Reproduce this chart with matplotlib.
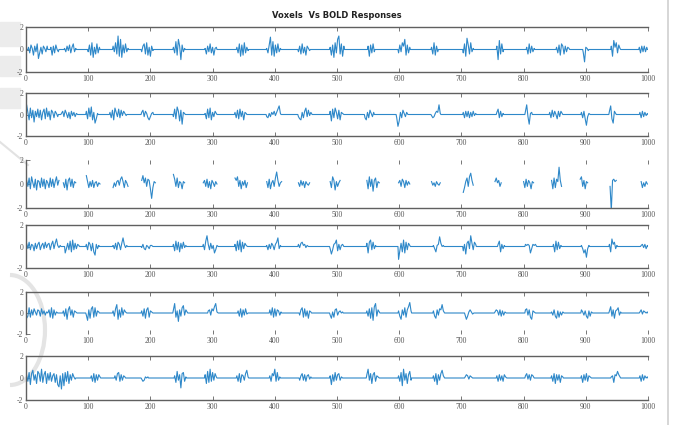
import numpy as np
import matplotlib
matplotlib.use("Agg")
import matplotlib.pyplot as plt
from matplotlib.lines import Line2D
from matplotlib.patches import Rectangle, Arc

title = "Voxels  Vs BOLD Responses"
x_ticks = [0, 100, 200, 300, 400, 500, 600, 700, 800, 900, 1000]
y_ticks = [-2, 0, 2]
y_labels = ["-2", "0", "2"]
step = 2

p1_starts = [4, 40, 62, 100, 140, 186, 237, 288, 339, 387, 438, 489, 550, 599, 652, 703, 757, 805, 853, 896, 941, 986]
p1_bursts = [
    [0.2, -0.3, 0.4, 0.1, -0.5, 0.3, -0.2, 0.5, -0.8, -0.3, 0.2, -0.4, 0.3, 0.1, -0.2, 0.3],
    [0.2, -0.5, 0.3, -0.3, 0.4, 0.0, -0.2],
    [0.1, -0.2, 0.3, -0.1, 0.4, -0.3, 0.2, 0.5, -0.2, 0.1],
    [-0.2, 0.4, -0.5, 0.6, -0.7, 0.2, -0.4, 0.5, -0.3, 0.2],
    [0.3, -0.2, 0.6, -0.4, 1.2, -0.6, 0.9, -0.7, 0.4, -0.3, 0.5, -0.2, 0.1],
    [-0.2, 0.3, 0.5, -0.4, 0.6, -0.5, 0.2, -0.6, 0.3, -0.1],
    [0.2, -0.3, 0.7, -0.5, 0.9, 0.3, -0.9, 0.4, -0.2, 0.1],
    [0.1, -0.4, 0.3, -0.2, 0.5, -0.3, 0.2, -0.5, 0.1, 0.2],
    [0.2, -0.3, 0.5, -0.6, 0.4, -0.5, 0.6, -0.3, 0.2, -0.1],
    [0.1, -0.3, 0.4, 1.1, -0.5, 0.7, -0.6, 0.4, -0.3, 0.5, -0.2, 0.1],
    [-0.2, 0.3, -0.4, 0.5, -0.3, 0.2, -0.5, 0.3, 0.1, -0.1],
    [0.2, -0.5, 0.4, -0.7, 0.6, -0.3, 0.9, 1.2, -0.4, 0.5, -0.6, 0.3],
    [0.3, -0.6, 0.4, -0.3, 0.5, -0.2],
    [-0.3, 0.4, -0.2, 0.6, 0.3, 0.9, -0.5, 0.4, -0.3, 0.2],
    [0.2, -0.4, 0.6, -0.5, 0.3, -0.2],
    [-0.3, 0.5, -0.6, 1.0, 0.4, -0.4, 0.6, -0.2, 0.1],
    [0.3, -0.9, 0.8, -0.4, 0.5, -0.2],
    [0.2, -0.4, 0.5, -0.3, 0.3, -0.2, 0.1],
    [0.2, -0.3, 0.4, -0.5, 0.5, 0.3, -0.4, 0.3, -0.2, 0.2, 0.1],
    [-0.3, -1.1, 0.2, 0.1, -0.1],
    [0.3, -0.6, 0.8, 0.2, 0.6, -0.3, 0.4, 0.1],
    [0.2, -0.3, 0.3, -0.2, 0.3, -0.2, 0.2],
]

p2_starts = [1, 21, 57, 97, 135, 186, 237, 288, 336, 387, 438, 489, 545, 596, 652, 703, 757, 803, 842, 893, 938, 987]
p2_bursts = [
    [0.9, 0.2, -0.5, 0.6, -0.3, 0.4, -0.7, 0.3, -0.2, 0.5],
    [-0.3, 0.4, -0.5, 0.2, 0.5, -0.4, 0.6, -0.2, 0.3, -0.5, 0.4, 0.2, -0.3, 0.3, 0.1, -0.2],
    [0.1, 0.3, -0.2, 0.4, 0.1, -0.3, 0.2, -0.4, 0.3, -0.1, 0.2, -0.2, 0.1, 0.0],
    [0.3, -0.4, 0.6, -0.2, 0.7, -0.5, 0.2, -0.8, -0.4, 0.1],
    [0.2, -0.3, 0.4, -0.5, 0.6, 0.2, -0.2, 0.5, -0.3, 0.4, -0.1, 0.3, 0.1, -0.1],
    [0.2, 0.4, -0.2, 0.3, 0.1, -0.3, -0.5, -0.2, 0.1, 0.2],
    [-0.2, 0.5, -0.4, 0.7, 0.3, -0.6, 0.4, -0.9, 0.2, 0.1],
    [0.1, -0.4, 0.5, -0.3, 0.6, -0.5, 0.2, -0.2, 0.3, 0.1],
    [0.2, -0.3, 0.4, -0.4, 0.5, -0.2, 0.3, -0.5, 0.2, 0.1],
    [-0.2, -0.3, 0.1, -0.2, 0.2, 0.0, 0.3, -0.1, 0.2, 0.5, 0.8, 0.1],
    [-0.2, -0.4, -0.5, 0.2, -0.3, 0.3, 0.6, -0.2, 0.4, -0.1, 0.2, 0.0],
    [0.3, -0.6, 0.5, -0.3, 0.6, 0.2, -0.4, 0.4, -0.5, 0.2, 0.1, 0.0],
    [-0.3, -0.5, 0.2, -0.3, 0.4, 0.1, -0.2, 0.2],
    [-0.3, -1.1, -0.6, 0.2, -0.3, 0.4, 0.1, -0.2, 0.2, 0.0],
    [-0.1, -0.3, -0.2, 0.1, 0.3, 0.2, 0.9, 0.1],
    [0.2, -0.3, 0.3, -0.2, 0.3, -0.3, 0.2, -0.2, 0.3, -0.1, 0.1],
    [0.2, 0.5, -0.3, 0.3, -0.2, 0.1],
    [0.3, 0.9, -0.2, -0.9, 0.1, 0.2],
    [0.2, -0.3, 0.4, -0.2, 0.3, 0.0, -0.4, 0.3, -0.2, 0.3, 0.1],
    [0.2, -0.3, 0.3, -0.4, -1.0, -0.2, 0.1, 0.0],
    [0.3, 0.8, -0.4, -0.8, 0.3, 0.1],
    [0.2, -0.3, 0.3, -0.2, 0.2, -0.1, 0.1],
]

p3_starts = [1, 60, 97, 140, 186, 237, 285, 336, 387, 438, 489, 548, 599, 652, 703, 754, 800, 845, 891, 939, 989]
p3_bursts = [
    [0.3, -0.2, 0.5, -0.4, 0.6, 0.1, -0.3, 0.4, -0.5, 0.3, 0.2, -0.3, 0.5, -0.2, 0.4, -0.4, 0.3, 0.1, -0.3, 0.5, -0.2, 0.4, -0.3, 0.2, 0.6, -0.1, 0.3],
    [0.1, -0.3, 0.4, -0.5, 0.3, 0.5, -0.2, 0.4, -0.3, 0.2, 0.1],
    [0.7, 0.2, -0.3, 0.2, -0.2, 0.3, -0.3, 0.1, 0.2, -0.2, 0.1, 0.0],
    [-0.3, 0.1, -0.2, 0.2, 0.3, -0.1, 0.4, 0.6, 0.2, -0.3, 0.3, 0.1, -0.2],
    [0.3, 0.7, 0.1, 0.5, -0.2, 0.4, 0.3, -0.4, -1.2, -0.3, 0.2, 0.1],
    [0.8, 0.4, -0.2, 0.5, -0.3, 0.2, 0.1, -0.4, 0.2, 0.1],
    [0.1, 0.3, -0.2, 0.4, -0.3, 0.2, -0.4, 0.3, 0.1, -0.2, 0.2, 0.0],
    [0.5, 0.3, 0.6, -0.2, 0.3, -0.4, 0.2, -0.1, 0.3, -0.3, 0.1],
    [0.2, -0.3, 0.4, -0.4, 0.1, 0.3, -0.2, 0.5, 1.0, 0.3, -0.2, 0.1, 0.2],
    [0.1, -0.2, 0.3, -0.1, 0.2, -0.3, 0.2, 0.0, -0.1, 0.1],
    [0.2, -0.3, 0.6, 0.3, -0.5, 0.2, -0.2, 0.1, 0.3],
    [0.3, -0.4, 0.6, -0.2, 0.4, -0.6, 0.3, 0.5, -0.3, 0.2, 0.1],
    [0.1, 0.3, -0.2, 0.4, 0.2, -0.3, 0.3, -0.1, 0.2, 0.0],
    [0.2, -0.1, 0.1, -0.2, 0.2, 0.0, -0.1, 0.1],
    [-0.7, -0.3, 0.2, 0.5, -0.2, 0.6, 0.9, 0.3, -0.1],
    [0.2, 0.5, 0.1, 0.3, -0.2, 0.1],
    [0.2, -0.3, 0.4, -0.2, 0.3, 0.1, -0.4, 0.2, 0.1],
    [0.3, -0.4, 0.5, -0.3, 0.4, 0.2, 1.4, 0.3, -0.2],
    [0.4, 0.6, -0.2, 0.3, -0.4, 0.2, 0.1],
    [-0.2, -2.2, 0.3, 0.4, 0.2, 0.3],
    [0.2, -0.3, 0.1, -0.2, 0.2, 0.0],
]

p4_starts = [1, 63, 97, 140, 186, 237, 285, 336, 387, 438, 489, 548, 599, 655, 703, 759, 803, 848, 893, 938, 989]
p4_bursts = [
    [0.3, -0.2, 0.4, -0.3, 0.2, 0.1, -0.4, 0.3, -0.2, 0.2, 0.4, -0.3, 0.1, 0.3, -0.2, 0.4, -0.1, 0.2, 0.3, -0.3, 0.2, 0.5, -0.2, 0.3, 0.7, 0.1, -0.1, 0.1],
    [-0.6, -0.2, 0.3, -0.3, 0.5, -0.5, 0.6, -0.3, 0.3, -0.2, 0.2, 0.1],
    [0.2, -0.3, 0.4, 0.2, -0.4, 0.3, -0.5, -0.8, 0.2, -0.2, 0.1],
    [0.1, -0.2, 0.3, -0.3, 0.4, 0.2, -0.3, 0.3, 0.8, 0.2, -0.1, 0.1],
    [-0.1, 0.2, -0.2, -0.3, 0.1, 0.0, -0.2, 0.1, 0.1, 0.0],
    [0.2, -0.4, 0.5, -0.3, 0.4, -0.5, 0.3, -0.2, 0.4, -0.1, 0.1],
    [0.2, -0.3, 0.5, 1.0, 0.2, -0.3, 0.3, -0.2, 0.1, -0.6, -0.3, 0.1, 0.0],
    [0.2, -0.4, 0.5, -0.3, 0.6, -0.5, 0.4, -0.2, 0.3, 0.1, 0.0],
    [0.1, -0.3, 0.2, -0.2, 0.3, 0.1, -0.3, 0.2, 0.4, 0.8, -0.2, 0.1],
    [0.2, -0.1, 0.3, 0.4, 0.1, 0.2, -0.1, 0.1, 0.0, 0.0],
    [-0.2, -0.7, -0.3, 0.2, 0.3, 0.6, -0.4, 0.2, -0.3, 0.1, 0.2, 0.0],
    [0.3, -0.6, 0.4, 0.6, -0.3, 0.4, -0.2, 0.1],
    [-1.2, -0.4, 0.3, -0.5, 0.6, -0.6, 0.4, -0.3, 0.3, 0.1],
    [0.1, -0.2, -0.5, 0.1, 0.2, 0.9, 0.3, 0.0, 0.1],
    [-0.4, 0.2, -0.7, 0.3, 0.5, -0.2, 1.0, 0.3, -0.3, 0.4, 0.2],
    [0.2, 0.5, -0.5, 0.2, -0.2, 0.1],
    [0.2, 0.1, 0.2, 0.1, -0.6, -0.2, 0.2, 0.1, 0.2, 0.0],
    [0.2, -0.5, 0.5, -0.3, 0.4, -0.2, 0.1],
    [0.1, -0.2, -0.6, -0.3, -1.0, -0.2, 0.1],
    [0.2, -0.5, 0.7, 0.2, 0.4, -0.2, 0.1],
    [0.1, 0.2, -0.1, 0.2, -0.2, 0.1],
]

p5_starts = [1, 60, 97, 140, 186, 237, 293, 341, 392, 440, 489, 548, 599, 655, 706, 754, 803, 845, 893, 938, 987]
p5_bursts = [
    [-0.5, -0.3, 0.5, -0.4, 0.3, -0.2, 0.4, 0.1, -0.2, 0.3, 0.2, -0.3, 0.4, -0.1, 0.2, -0.2, 0.1, 0.0, 0.3, -0.4, 0.5, -0.5, 0.3, -0.2, 0.1, 0.0],
    [0.2, -0.3, 0.4, -0.6, 0.3, 0.6, -0.2, 0.3, -0.4, 0.2, 0.1, 0.0],
    [-0.2, -0.7, 0.3, -0.5, 0.4, 0.6, -0.4, 0.5, -0.3, 0.2, 0.1],
    [0.2, -0.3, 0.4, 0.8, -0.6, 0.3, -0.4, 0.5, -0.2, 0.3, 0.1, 0.0],
    [0.2, -0.3, 0.4, -0.5, 0.3, 0.5, -0.4, 0.2, 0.1, 0.0],
    [0.3, 0.9, -0.4, 0.2, -0.8, 0.3, -0.3, 0.5, 0.7, -0.2, 0.3, 0.1],
    [0.2, 0.3, -0.2, 0.4, 0.2, 0.6, 0.9, 0.1, 0.0],
    [0.2, -0.3, 0.4, -0.4, 0.3, -0.2, 0.4, -0.1, 0.0],
    [0.3, -0.2, 0.5, -0.4, 0.4, -0.3, 0.3, 0.2, -0.2, 0.1],
    [-0.2, 0.3, 0.5, -0.4, 0.4, -0.3, 0.2, -0.5, 0.2, 0.1],
    [-0.2, -0.5, 0.1, -0.4, 0.3, 0.4, -0.2, 0.1, 0.2, 0.0, 0.1],
    [0.2, -0.3, 0.4, -0.5, 0.5, -0.7, 0.6, 0.9, -0.3, 0.3, 0.1],
    [0.2, -0.3, -0.6, 0.3, -0.2, 0.5, -0.4, 0.3, 0.6, 1.0, 0.2],
    [0.2, -0.3, -0.5, 0.3, -0.2, 0.4, 0.3, 0.8, 0.2, 0.0],
    [-0.2, -0.6, -0.3, 0.1, 0.3, 0.1, -0.1, 0.0],
    [0.1, 0.3, 0.2, -0.2, 0.3, -0.3, 0.2, -0.2, 0.1, 0.0],
    [0.3, 0.4, -0.2, 0.3, -0.4, -0.6, 0.2, 0.1, 0.0],
    [0.1, -0.2, 0.3, -0.3, -0.5, 0.2, -0.4, 0.1, -0.2, 0.1, 0.0],
    [0.3, 0.1, -0.2, 0.2, -0.3, -0.5, 0.2, -0.3, 0.1, 0.0],
    [0.2, 0.6, -0.3, 0.3, -0.5, 0.2, 0.3, 0.5, -0.2, 0.1],
    [0.1, 0.3, -0.1, 0.2, 0.1, 0.0, 0.1],
]

p6_starts = [1, 105, 143, 186, 239, 288, 339, 392, 440, 489, 548, 599, 655, 706, 757, 803, 845, 893, 941, 987]
p6_bursts = [
    [0.2, -0.3, 0.5, -0.6, 0.4, 0.7, -0.2, 0.3, -0.5, 0.6, 0.4, -0.3, 0.8, -0.4, 0.3, 0.6, -0.5, 0.4, -0.2, 0.5, -0.3, 0.2, 0.4, -0.4, 0.3, -0.6, -0.8, 0.2, -1.0, 0.4, -0.7, 0.5, -0.3, 0.6, -0.5, 0.3, -0.2, 0.4, 0.1, -0.1],
    [0.2, -0.3, 0.4, -0.4, 0.3, -0.2, 0.3, 0.1],
    [0.2, -0.2, 0.4, 0.5, -0.3, 0.3, -0.2, 0.2, 0.1],
    [-0.1, -0.3, -0.2, 0.1, 0.0, 0.1],
    [0.2, -0.4, 0.6, -0.2, 0.3, -0.9, 0.4, 0.5, -0.3, 0.1],
    [0.3, -0.5, 0.6, -0.4, 0.8, -0.3, 0.5, -0.2, 0.4, 0.1],
    [0.2, -0.3, 0.4, -0.4, 0.3, 0.2, -0.2, 0.4, 0.7, 0.1],
    [0.2, -0.3, 0.4, 0.2, 0.8, -0.3, 0.5, -0.2, 0.1],
    [-0.2, 0.2, 0.4, -0.2, 0.3, -0.3, 0.2, 0.3, -0.1, 0.1],
    [0.2, -0.6, 0.3, -0.3, 0.5, -0.2, 0.3, 0.4, -0.2, 0.1, 0.0],
    [0.3, 0.8, -0.2, 0.4, -0.5, 0.3, 0.5, -0.3, 0.2, 0.1, 0.0],
    [0.2, -0.3, 0.5, -0.7, 0.8, -0.2, 0.4, -0.5, 0.3, 0.6, -0.2],
    [0.2, -0.3, 0.4, -0.6, 0.3, -0.2, 0.4, 0.7, 0.2, 0.0],
    [0.1, 0.3, 0.2, -0.1, 0.2, 0.1, 0.0],
    [0.2, -0.3, 0.3, -0.2, 0.2, -0.3, 0.3, 0.1, 0.0],
    [0.2, 0.4, -0.1, 0.3, -0.2, 0.3, 0.2, 0.0],
    [0.2, -0.3, 0.4, -0.5, 0.3, -0.2, 0.3, -0.4, 0.2, 0.1],
    [0.2, -0.4, 0.3, -0.2, 0.4, -0.3, 0.2, 0.1, 0.0],
    [0.1, 0.2, -0.4, 0.3, 0.2, 0.6, 0.3, 0.1],
    [0.2, -0.3, 0.3, -0.2, 0.2, 0.0, 0.1],
]


def build(starts, bursts, gaps=False):
    xs, ys = [], []
    if not gaps:
        xs.append(0); ys.append(0.0)
    for s, b in zip(starts, bursts):
        bx = [s + step * i for i in range(len(b))]
        if gaps:
            xs += bx + [bx[-1]]
            ys += list(b) + [np.nan]
        else:
            xs += [max(s - 1, 0)] + bx + [bx[-1] + 1]
            ys += [0.0] + list(b) + [0.0]
    if not gaps:
        xs.append(1000); ys.append(0.0)
    return np.array(xs, float), np.array(ys, float)


panels = [
    (p1_starts, p1_bursts, False),
    (p2_starts, p2_bursts, False),
    (p3_starts, p3_bursts, True),
    (p4_starts, p4_bursts, False),
    (p5_starts, p5_bursts, False),
    (p6_starts, p6_bursts, False),
]

W, H = 676, 425
fig = plt.figure(figsize=(W / 100, H / 100), dpi=100)
fig.patch.set_facecolor("white")

# faint background watermark shapes at the left edge
for (yt, yb) in [(22, 46), (56, 76), (88, 108)]:
    fig.add_artist(Rectangle((0, 1 - yb / H), 20 / W, (yb - yt) / H,
                             transform=fig.transFigure, color="#ececec", zorder=0))
fig.add_artist(Line2D([0, 28 / W], [1 - 142 / H, 1 - 165 / H], color="#e2e2e2", lw=1.5, zorder=0))
fig.add_artist(Arc((10 / W, 1 - 330 / H), 70 / W, 110 / H, theta1=-90, theta2=90,
                   transform=fig.transFigure, color="#e4e4e4", lw=3, zorder=0))

# (top_px, bottom_px) of each axes
rows = [(27, 72), (93, 136), (160, 208), (225, 268), (292, 334), (356, 400)]
left_px, right_px = 26, 648
hide_top = [False, False, True, False, False, False]
hide_bottom = [False, False, False, False, True, False]
edge = "#606060"
tickc = "#555555"

for i, ((starts, bursts, gaps), (t, b)) in enumerate(zip(panels, rows)):
    ax = fig.add_axes([left_px / W, 1 - b / H, (right_px - left_px) / W, (b - t) / H])
    ax.patch.set_alpha(0)
    x, y = build(starts, bursts, gaps)
    ax.plot(x, y, color="#2e88c9", lw=0.8)
    ax.set_xlim(0, 1000)
    ax.set_ylim(-2, 2)
    ax.set_xticks(x_ticks)
    ax.set_xticklabels([str(v) for v in x_ticks])
    ax.set_yticks(y_ticks)
    ax.set_yticklabels(y_labels)
    ax.tick_params(direction="in", length=3, width=0.6, colors=edge,
                   labelsize=5.5, labelcolor=tickc, pad=2, top=True, right=False)
    for sp in ax.spines.values():
        sp.set_color(edge)
        sp.set_linewidth(1.0)
    ax.spines["right"].set_visible(False)
    if hide_top[i]:
        ax.spines["top"].set_visible(False)
    if hide_bottom[i]:
        ax.spines["bottom"].set_visible(False)
    for lab in ax.get_xticklabels() + ax.get_yticklabels():
        lab.set_fontfamily("Liberation Serif")

fig.text(337 / W, 1 - 15 / H, title, ha="center", va="center",
         fontsize=6, fontweight="bold", color="#222222")

# right image border line
fig.add_artist(Line2D([668 / W, 668 / W], [0, 1], color="#d0d0d0", lw=1.2))

fig.savefig("out.png", dpi=100)
